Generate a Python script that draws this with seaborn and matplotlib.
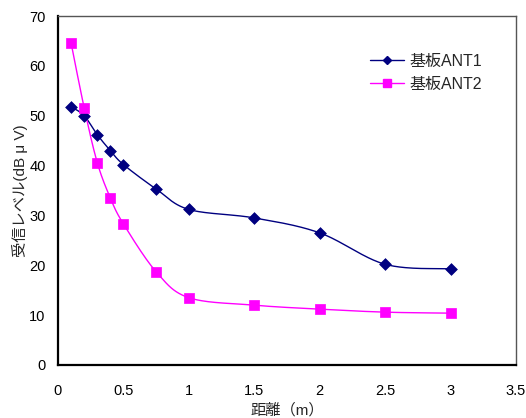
import numpy as np
import matplotlib
matplotlib.use("Agg")
import matplotlib.pyplot as plt
from matplotlib.lines import Line2D
import seaborn as sns

# distance (m)
distance = [0.1, 0.2, 0.3, 0.4, 0.5, 0.75, 1.0, 1.5, 2.0, 2.5, 3.0]
# received level (dBμV)
ant1 = [51.8, 50.0, 46.2, 43.0, 40.2, 35.3, 31.2, 29.5, 26.5, 20.2, 19.3]
ant2 = [64.6, 51.6, 40.6, 33.5, 28.3, 18.7, 13.5, 12.0, 11.2, 10.6, 10.4]
series_names = ["基板ANT1", "基板ANT2"]
x_ticks = [0, 0.5, 1, 1.5, 2, 2.5, 3, 3.5]
x_tick_labels = ["0", "0.5", "1", "1.5", "2", "2.5", "3", "3.5"]
y_ticks = [0, 10, 20, 30, 40, 50, 60, 70]

sns.set_style("white")
plt.rcParams["font.family"] = ["Liberation Sans", "Noto Sans CJK JP", "DejaVu Sans"]


def smooth_curve(x, y, n=40):
    """Piecewise cubic Bezier through the points (Catmull-Rom tangents)."""
    p = np.column_stack([x, y]).astype(float)
    out = []
    t = np.linspace(0, 1, n)[:, None]
    for i in range(len(p) - 1):
        p0 = p[i - 1] if i > 0 else p[i]
        p1, p2 = p[i], p[i + 1]
        p3 = p[i + 2] if i + 2 < len(p) else p[i + 1]
        c1 = p1 + (p2 - p0) / 6.0
        c2 = p2 - (p3 - p1) / 6.0
        seg = (1 - t) ** 3 * p1 + 3 * (1 - t) ** 2 * t * c1 + 3 * (1 - t) * t ** 2 * c2 + t ** 3 * p2
        out.append(seg if i == 0 else seg[1:])
    return np.vstack(out)


fig = plt.figure(figsize=(5.26, 4.18), dpi=100)
ax = fig.add_axes([58 / 526, 1 - 365 / 418, (516 - 58) / 526, (365 - 16) / 418])

styles = [
    dict(values=ant1, color="#000080", marker="D", size=6.0),
    dict(values=ant2, color="#FF00FF", marker="s", size=7.0),
]
handles = []
for name, st in zip(series_names, styles):
    curve = smooth_curve(distance, st["values"])
    sns.lineplot(x=curve[:, 0], y=curve[:, 1], sort=False, estimator=None,
                 color=st["color"], linewidth=1.0, ax=ax)
    sns.scatterplot(x=distance, y=st["values"], marker=st["marker"],
                    s=st["size"] ** 2, color=st["color"], edgecolor=st["color"],
                    linewidth=0.5, ax=ax, zorder=3)
    handles.append(Line2D([0], [0], color=st["color"], linewidth=1.0,
                          marker=st["marker"], markersize=st["size"] * 0.75,
                          markeredgecolor=st["color"], label=name))

ax.set_xlim(0, 3.5)
ax.set_ylim(0, 70)
ax.set_xticks(x_ticks)
ax.set_xticklabels(x_tick_labels)
ax.set_yticks(y_ticks)
ax.tick_params(direction="in", length=5, width=1, colors="black",
               labelsize=10.5)
ax.tick_params(axis="x", pad=14)
ax.tick_params(axis="y", pad=9)

for side in ["left", "bottom"]:
    ax.spines[side].set_color("black")
    ax.spines[side].set_linewidth(1.6)
for side in ["top", "right"]:
    ax.spines[side].set_color("#555555")
    ax.spines[side].set_linewidth(1.0)

ax.set_xlabel("距離（m）", fontsize=11, labelpad=3)
ax.set_ylabel("受信レベル(dB μ V)", fontsize=11, labelpad=1)

ax.legend(handles=handles, loc="upper left", bbox_to_anchor=(362 / 526, 1 - 46 / 418),
          bbox_transform=fig.transFigure, frameon=False, fontsize=11.5,
          handlelength=2.1, handletextpad=0.4, labelspacing=0.5, borderpad=0)

fig.savefig("out.png", dpi=100, facecolor="white")
